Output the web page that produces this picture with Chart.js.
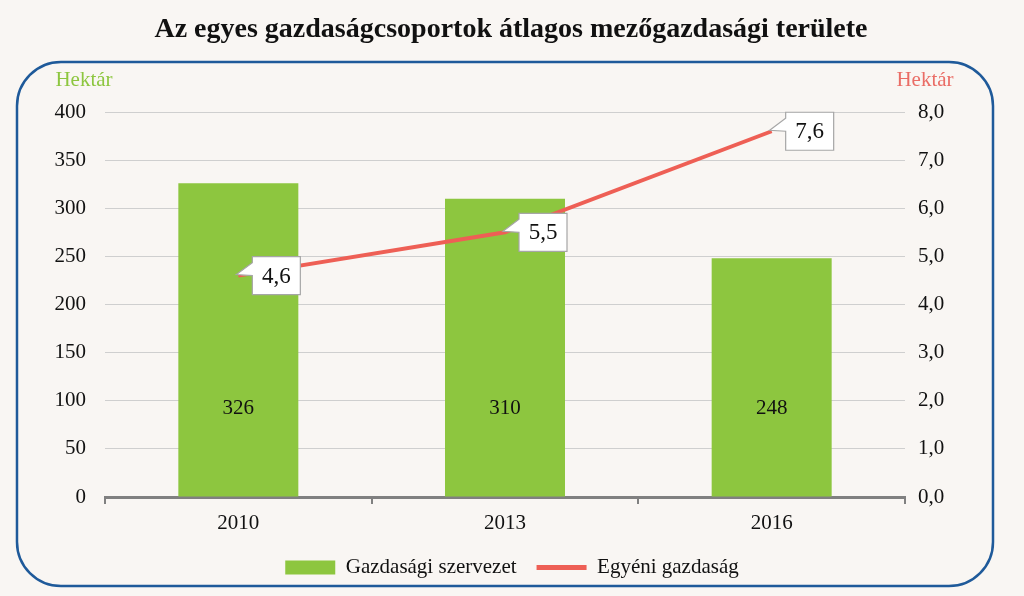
<!DOCTYPE html>
<html>
<head>
<meta charset="utf-8">
<script src="https://cdn.jsdelivr.net/npm/chart.js@4"></script>
<style>
    html, body { margin: 0; padding: 0; background: #f9f6f3; }
    #wrap { width: 1024px; height: 596px; }
</style>
</head>
<body>
<div id="wrap"><canvas id="areaChart"></canvas></div>
<script>
// Adatok
const years = ["2010", "2013", "2016"];
const gazdasagiSzervezet = [326, 310, 248];
const egyeniGazdasag = [4.6, 5.5, 7.6];
const leftTicks = [0, 50, 100, 150, 200, 250, 300, 350, 400];
const rightTicks = [0, 1, 2, 3, 4, 5, 6, 7, 8];

const SERIF = "'Liberation Serif', 'DejaVu Serif', serif";
const GREEN = "#8dc63f";
const RED = "#ee5f55";

function roundRect(ctx, x, y, w, h, r) {
    ctx.beginPath();
    ctx.moveTo(x + r, y);
    ctx.lineTo(x + w - r, y);
    ctx.arcTo(x + w, y, x + w, y + r, r);
    ctx.lineTo(x + w, y + h - r);
    ctx.arcTo(x + w, y + h, x + w - r, y + h, r);
    ctx.lineTo(x + r, y + h);
    ctx.arcTo(x, y + h, x, y + h - r, r);
    ctx.lineTo(x, y + r);
    ctx.arcTo(x, y, x + r, y, r);
    ctx.closePath();
}

// Háttér, keret, cím, tengelycímek
const framePlugin = {
    id: "frame",
    beforeDraw(chart) {
        const ctx = chart.ctx;
        ctx.save();
        ctx.fillStyle = "#f9f6f3";
        ctx.fillRect(0, 0, chart.width, chart.height);
        roundRect(ctx, 17, 62, 976, 524, 44);
        ctx.strokeStyle = "#1f5a9a";
        ctx.lineWidth = 2.5;
        ctx.stroke();

        ctx.fillStyle = "#111";
        ctx.font = "bold 28px " + SERIF;
        ctx.textAlign = "center";
        ctx.textBaseline = "middle";
        ctx.fillText("Az egyes gazdaságcsoportok átlagos mezőgazdasági területe", 511, 30);

        ctx.font = "21px " + SERIF;
        ctx.fillStyle = GREEN;
        ctx.fillText("Hektár", 84, 80);
        ctx.fillStyle = "#ea6d66";
        ctx.fillText("Hektár", 925, 80);
        ctx.restore();
    },
};

// Adatcímkék
const labelPlugin = {
    id: "labels",
    afterDatasetsDraw(chart) {
        const ctx = chart.ctx;
        const yLeft = chart.scales.y;
        ctx.save();
        ctx.textAlign = "center";
        ctx.textBaseline = "middle";

        // oszlopok értékei
        ctx.font = "21px " + SERIF;
        ctx.fillStyle = "#111";
        chart.getDatasetMeta(0).data.forEach((bar, i) => {
            ctx.fillText(String(gazdasagiSzervezet[i]), bar.x, yLeft.getPixelForValue(92));
        });

        // vonal értékei, buborékban
        chart.getDatasetMeta(1).data.forEach((pt, i) => {
            const bx = pt.x + 14, bw = 48, bh = 38;
            const by = pt.y - bh / 2;
            ctx.beginPath();
            ctx.moveTo(bx, by);
            ctx.lineTo(bx + bw, by);
            ctx.lineTo(bx + bw, by + bh);
            ctx.lineTo(bx, by + bh);
            ctx.lineTo(bx, by + bh / 2);
            ctx.lineTo(pt.x - 2, pt.y - 1);
            ctx.lineTo(bx, by + 6);
            ctx.closePath();
            ctx.fillStyle = "#ffffff";
            ctx.fill();
            ctx.strokeStyle = "#a6a6a6";
            ctx.lineWidth = 1.2;
            ctx.stroke();
            ctx.fillStyle = "#111";
            ctx.font = "23px " + SERIF;
            ctx.fillText(egyeniGazdasag[i].toFixed(1).replace(".", ","), bx + bw / 2, pt.y + 1);
        });
        ctx.restore();
    },
};

document.addEventListener("DOMContentLoaded", function () {
    const areaCtx = document.getElementById("areaChart")?.getContext("2d");
    if (!areaCtx) return;

    new Chart(areaCtx, {
        type: "bar",
        data: {
            labels: years,
            datasets: [
                {
                    label: "Gazdasági szervezet",
                    data: gazdasagiSzervezet,
                    backgroundColor: GREEN,
                    borderWidth: 0,
                    yAxisID: "y",
                    order: 1,
                    categoryPercentage: 1,
                    barPercentage: 0.45,
                },
                {
                    type: "line",
                    label: "Egyéni gazdaság",
                    data: egyeniGazdasag,
                    borderColor: RED,
                    backgroundColor: RED,
                    borderWidth: 4,
                    pointRadius: 0,
                    tension: 0,
                    yAxisID: "y2",
                    order: 0,
                },
            ],
        },
        options: {
            responsive: true,
            maintainAspectRatio: false,
            animation: false,
            layout: {
                padding: { top: 112, left: 0, right: 0, bottom: 8 },
            },
            plugins: {
                title: { display: false },
                tooltip: { enabled: false },
                legend: {
                    position: "bottom",
                    labels: {
                        usePointStyle: true,
                        pointStyleWidth: 50,
                        boxHeight: 14,
                        padding: 20,
                        color: "#111",
                        font: { size: 21, family: SERIF },
                        sort: (a, b) => a.datasetIndex - b.datasetIndex,
                        generateLabels: function (chart) {
                            const items = Chart.defaults.plugins.legend.labels.generateLabels(chart);
                            items.forEach((it) => {
                                if (it.datasetIndex === 0) {
                                    it.pointStyle = "rect";
                                    it.lineWidth = 0;
                                } else {
                                    it.pointStyle = "line";
                                    it.lineWidth = 5;
                                    it.strokeStyle = RED;
                                }
                            });
                            return items;
                        },
                    },
                },
            },
            scales: {
                x: {
                    grid: {
                        display: true,
                        drawOnChartArea: false,
                        offset: true,
                        tickLength: 7,
                        tickColor: "#808080",
                        lineWidth: 2,
                    },
                    border: { display: true, color: "#808080", width: 3 },
                    ticks: {
                        color: "#111",
                        padding: 7,
                        font: { size: 21, family: SERIF },
                    },
                    afterFit(scale) { scale.height = 40; },
                },
                y: {
                    position: "left",
                    min: 0,
                    max: 400,
                    afterBuildTicks(scale) {
                        scale.ticks = leftTicks.map((v) => ({ value: v }));
                    },
                    grid: { color: "#cfcfcf", lineWidth: 1, drawTicks: false },
                    border: { display: false },
                    ticks: {
                        color: "#111",
                        padding: 19,
                        font: { size: 21, family: SERIF },
                    },
                    afterFit(scale) { scale.width = 105; },
                },
                y2: {
                    position: "right",
                    min: 0,
                    max: 8,
                    afterBuildTicks(scale) {
                        scale.ticks = rightTicks.map((v) => ({ value: v }));
                    },
                    grid: { drawOnChartArea: false, drawTicks: false },
                    border: { display: false },
                    ticks: {
                        color: "#111",
                        padding: 13,
                        font: { size: 21, family: SERIF },
                        callback: (v) => Number(v).toFixed(1).replace(".", ","),
                    },
                    afterFit(scale) { scale.width = 119; },
                },
            },
        },
        plugins: [framePlugin, labelPlugin],
    });
});
</script>
</body>
</html>
